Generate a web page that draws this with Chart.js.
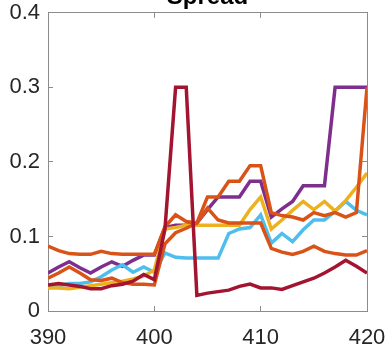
<!DOCTYPE html>
<html>
<head>
<meta charset="utf-8">
<script src="https://cdn.jsdelivr.net/npm/chart.js@4.4.1/dist/chart.umd.min.js"></script>
<style>
  html, body { margin: 0; padding: 0; background: #fff; }
  #wrap { width: 388px; height: 346px; }
</style>
</head>
<body>
<div id="wrap"><canvas id="spread"></canvas></div>
<script>
  const wavelengths = [390, 391, 392, 393, 394, 395, 396, 397, 398, 399, 400,
    401, 402, 403, 404, 405, 406, 407, 408, 409, 410,
    411, 412, 413, 414, 415, 416, 417, 418, 419, 420];

  const darkRed = [0.035, 0.037, 0.035, 0.033, 0.030, 0.030, 0.034, 0.036, 0.040, 0.049, 0.042,
    0.110, 0.300, 0.300, 0.021, 0.024, 0.026, 0.028, 0.033, 0.036, 0.031,
    0.031, 0.029, 0.034, 0.039, 0.044, 0.051, 0.059, 0.068, 0.060, 0.051];
  const orangeA = [0.087, 0.081, 0.077, 0.076, 0.076, 0.080, 0.077, 0.076, 0.076, 0.076, 0.076,
    0.113, 0.129, 0.120, 0.118, 0.138, 0.122, 0.118, 0.118, 0.118, 0.118,
    0.084, 0.079, 0.076, 0.080, 0.087, 0.080, 0.077, 0.075, 0.075, 0.081];
  const orangeB = [0.044, 0.051, 0.059, 0.051, 0.042, 0.041, 0.044, 0.038, 0.036, 0.036, 0.035,
    0.090, 0.105, 0.111, 0.118, 0.153, 0.153, 0.174, 0.174, 0.195, 0.195,
    0.132, 0.128, 0.126, 0.122, 0.132, 0.128, 0.132, 0.126, 0.132, 0.300];
  const yellow = [0.031, 0.031, 0.030, 0.032, 0.034, 0.036, 0.038, 0.040, 0.043, 0.047, 0.055,
    0.110, 0.112, 0.115, 0.115, 0.115, 0.115, 0.115, 0.115, 0.136, 0.153,
    0.110, 0.122, 0.135, 0.147, 0.136, 0.147, 0.134, 0.148, 0.166, 0.185];
  const lightBlue = [0.032, 0.034, 0.037, 0.037, 0.039, 0.046, 0.055, 0.062, 0.052, 0.059, 0.052,
    0.078, 0.072, 0.071, 0.071, 0.071, 0.071, 0.104, 0.110, 0.112, 0.129,
    0.091, 0.104, 0.093, 0.109, 0.122, 0.122, 0.134, 0.147, 0.135, 0.129];
  const purple = [0.051, 0.059, 0.066, 0.058, 0.051, 0.059, 0.066, 0.060, 0.068, 0.075, 0.075,
    0.112, 0.115, 0.115, 0.118, 0.136, 0.153, 0.153, 0.153, 0.174, 0.174,
    0.126, 0.137, 0.147, 0.168, 0.168, 0.168, 0.300, 0.300, 0.300, 0.300];

  const xTicks = [390, 400, 410, 420];
  const yTickLabels = ['0', '0.1', '0.2', '0.3', '0.4'];

  const axisGray = '#8c8c8c';
  const textGray = '#262626';

  function series(values, color) {
    return {
      data: wavelengths.map((w, i) => ({ x: w, y: values[i] })),
      borderColor: color,
      backgroundColor: color,
      borderWidth: 3.5,
      pointRadius: 0,
      tension: 0,
      fill: false
    };
  }

  // MATLAB-like box: ticks point inwards on every side
  const inTicks = { drawOnChartArea: false, tickLength: -5, color: axisGray, tickColor: axisGray };

  const ctx = document.getElementById('spread');
  new Chart(ctx, {
    type: 'line',
    data: {
      datasets: [
        series(darkRed, '#A2142F'),
        series(orangeA, '#D95319'),
        series(orangeB, '#D95319'),
        series(yellow, '#EDB120'),
        series(lightBlue, '#4DBEEE'),
        series(purple, '#7E2F8E')
      ]
    },
    options: {
      responsive: true,
      maintainAspectRatio: false,
      animation: false,
      layout: { padding: { left: 0, right: 21, top: 0, bottom: 0 } },
      plugins: {
        legend: { display: false },
        tooltip: { enabled: false },
        title: {
          display: true,
          text: 'Spread',
          fullSize: false,
          color: '#000',
          font: { family: 'Liberation Sans, Arial', size: 24, weight: 'bold' },
          padding: { top: -17, bottom: 1 }
        }
      },
      scales: {
        x: {
          type: 'linear',
          min: 390,
          max: 420,
          afterBuildTicks: s => { s.ticks = xTicks.map(v => ({ value: v })); },
          ticks: {
            color: textGray,
            padding: 19,
            maxRotation: 0,
            font: { family: 'Liberation Sans, Arial', size: 22 }
          },
          grid: inTicks,
          border: { color: axisGray, width: 1 },
          afterFit: s => { s.height = 35; s.paddingLeft = 0; s.paddingRight = 0; }
        },
        xTop: {
          type: 'linear',
          position: 'top',
          min: 390,
          max: 420,
          afterBuildTicks: s => { s.ticks = xTicks.map(v => ({ value: v })); },
          ticks: { display: false },
          grid: inTicks,
          border: { color: axisGray, width: 1 },
          afterFit: s => { s.height = 0; s.paddingLeft = 0; s.paddingRight = 0; }
        },
        y: {
          min: 0,
          max: 0.4,
          ticks: {
            stepSize: 0.1,
            color: textGray,
            padding: 13,
            font: { family: 'Liberation Sans, Arial', size: 22 },
            callback: (v, i) => yTickLabels[i]
          },
          grid: inTicks,
          border: { color: axisGray, width: 1 },
          afterFit: s => { s.width = 48; s.paddingTop = 0; s.paddingBottom = 0; }
        },
        yRight: {
          position: 'right',
          min: 0,
          max: 0.4,
          ticks: { display: false, stepSize: 0.1 },
          grid: inTicks,
          border: { color: axisGray, width: 1 },
          afterFit: s => { s.width = 0; s.paddingTop = 0; s.paddingBottom = 0; }
        }
      }
    }
  });
</script>
</body>
</html>
